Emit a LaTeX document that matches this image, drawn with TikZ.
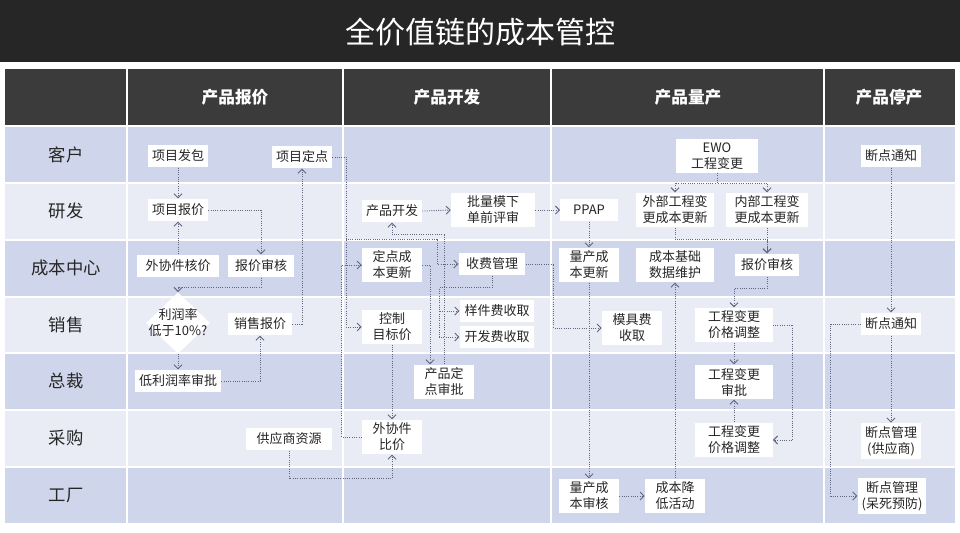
\documentclass[tikz,border=0pt]{standalone}
\usepackage{fontspec}
\setmainfont{Noto Sans CJK SC}
\usetikzlibrary{shapes.geometric,arrows.meta,calc}
\definecolor{titlebg}{RGB}{38,38,38}
\definecolor{headbg}{RGB}{59,59,59}
\definecolor{rowdark}{RGB}{207,213,234}
\definecolor{rowlight}{RGB}{233,235,245}
\definecolor{linegray}{RGB}{98,102,126}
\definecolor{textgray}{RGB}{38,38,38}
\newcommand{\boxfont}{\fontsize{9.75}{12}\selectfont}
\begin{document}
\begin{tikzpicture}
	[x=0.75pt,y=-0.75pt,
	mybox/.style={fill=white,text=textgray,font=\boxfont,align=center,inner xsep=3pt,inner ysep=2.5pt,minimum height=17pt},
	twoline/.style={mybox,minimum width=45pt},
	decide/.style={diamond,fill=white,minimum width=48pt,minimum height=46pt,inner sep=0pt},
	rowlabel/.style={text=textgray,font=\fontsize{13}{15}\selectfont},
	colhead/.style={text=white,font=\bfseries\fontsize{12.5}{15}\selectfont},
	mylink/.style={draw=linegray,densely dotted,line width=0.7pt,-{Straight Barb[length=3pt,width=6pt]}},]
	\useasboundingbox (0,0) rectangle (960,532);
	\fill[white] (0,0) rectangle (960,532);
	\fill[titlebg] (0,0) rectangle (960,62);
	\node[text=white,font=\fontsize{22.5}{26}\selectfont,name=title] at (480,32) {全价值链的成本管控};
	\fill[headbg] (5,69) rectangle (955,125);
	\foreach \ya/\yb/\c in {127/183/rowdark,183/240/rowlight,240/297/rowdark,297/353/rowlight,353/410/rowdark,410/467/rowlight,467/523/rowdark}
	{
		\fill[\c] (5,\ya) rectangle (955,\yb);
	}
	\foreach \y in {183,240,297,353,410,467}
	{
		\draw[white,line width=0.8pt] (5,\y) -- (955,\y);
	}
	\foreach \x in {127,343,551,824}
	{
		\draw[white,line width=0.8pt] (\x,69) -- (\x,523);
	}
	\foreach \t/\x [count=\i] in {产品报价/235,产品开发/447,产品量产/688,产品停产/889}
	{
		\node[colhead,name=stage\i] at (\x,97) {\t};
	}
	\foreach \t/\y [count=\i] in {客户/155,研发/211,成本中心/268,销售/325,总裁/381,采购/438,工厂/495}
	{
		\node[rowlabel,name=row\i] at (66,\y) {\t};
	}
	\node[mybox,name=fb] at (178,156) {项目发包};
	\node[mybox,name=dd] at (302,157) {项目定点};
	\node[mybox,name=bj] at (178,210) {项目报价};
	\node[mybox,minimum width=61pt,name=whj] at (178,266) {外协件核价};
	\node[mybox,minimum width=50pt,name=bjsh] at (261,266) {报价审核};
	\node[decide,name=lrl] at (178,323) {};
	\node[mybox,fill=none,name=lrltext] at (lrl) {利润率\\低于10\%?};
	\node[mybox,minimum width=48pt,name=xsbj] at (260,324) {销售报价};
	\node[mybox,minimum width=63pt,name=dlrl] at (178,381) {低利润率审批};
	\node[mybox,minimum width=64pt,name=gys] at (289,439) {供应商资源};
	\node[mybox,name=kf] at (392,211) {产品开发};
	\node[twoline,minimum width=63pt,name=plms] at (493,210) {批量模下\\单前评审};
	\node[twoline,name=ddcb] at (392,265) {定点成\\本更新};
	\node[mybox,minimum width=50pt,name=sfgl] at (492,264) {收费管理};
	\node[twoline,name=kzmb] at (392,327) {控制\\目标价};
	\node[mybox,minimum width=56pt,minimum height=16pt,name=yjf] at (497,311) {样件费收取};
	\node[mybox,minimum width=56pt,minimum height=16pt,name=kff] at (497,337) {开发费收取};
	\node[twoline,name=cpdd] at (444,382) {产品定\\点审批};
	\node[twoline,name=wxbj] at (392,437) {外协件\\比价};
	\node[mybox,minimum width=43pt,name=ppap] at (589,210) {PPAP};
	\node[twoline,minimum width=62pt,name=ewo] at (717,156) {EWO\\工程变更};
	\node[twoline,minimum width=58pt,name=wbbg] at (675,210) {外部工程变\\更成本更新};
	\node[twoline,minimum width=62pt,name=nbbg] at (767,210) {内部工程变\\更成本更新};
	\node[twoline,name=lccb] at (589,265) {量产成\\本更新};
	\node[twoline,minimum width=58pt,name=jcsj] at (675,265) {成本基础\\数据维护};
	\node[mybox,minimum width=48pt,name=bjsh2] at (767,265) {报价审核};
	\node[twoline,name=mjf] at (632,328) {模具费\\收取};
	\node[twoline,minimum width=58pt,name=tj1] at (734,325) {工程变更\\价格调整};
	\node[twoline,minimum width=58pt,name=bgsp] at (734,382) {工程变更\\审批};
	\node[twoline,minimum width=58pt,name=tj2] at (734,440) {工程变更\\价格调整};
	\node[twoline,name=lcsh] at (589,496) {量产成\\本审核};
	\node[twoline,name=jdhd] at (675,496) {成本降\\低活动};
	\node[mybox,name=dd1] at (891,156) {断点通知};
	\node[mybox,name=dd2] at (891,324) {断点通知};
	\node[twoline,minimum width=44pt,name=dgl1] at (891,441) {断点管理\\(供应商)};
	\node[twoline,minimum width=50pt,name=dgl2] at (892,496) {断点管理\\(呆死预防)};
	\draw[mylink] (fb.south) -- (bj.north);
	\draw[mylink] (whj.north) -- (bj.south);
	\draw[mylink] (bj.east) -| (bjsh.north);
	\draw[mylink] (bjsh.south) -- ++(0,10) -| (lrl.north);
	\draw[mylink] (lrl.south) -- (dlrl.north);
	\draw[mylink] (dlrl.east) -| (xsbj.south);
	\draw[mylink] (xsbj.east) -| (dd.south);
	\draw[mylink] (dd.east) -- ++(14,0) |- (kzmb.west);
	\draw[mylink] (dd.east) -- ++(14,0) |- (437,239) |- (sfgl.west);
	\draw[mylink] (wxbj.west) -- ++(-20,0) |- (ddcb.west);
	\draw[mylink] (kzmb.south) -- (wxbj.north);
	\draw[mylink] (gys.south) -- ++(0,28) -| (wxbj.south);
	\draw[mylink] (ddcb.east) -| ($(cpdd.north)+(-14,0)$);
	\draw[mylink] (cpdd.north) |- ($(kf.south)+(0,12)$) -- (kf.south);
	\draw[mylink] (sfgl.south) -- ++(0,12) -| ($(yjf.west)+(-20,0)$) -- (yjf.west);
	\draw[mylink] (sfgl.south) -- ++(0,12) -| ($(kff.west)+(-20,0)$) -- (kff.west);
	\draw[mylink] (kf.east) -- (plms.west);
	\draw[mylink] (plms.east) -- (ppap.west);
	\draw[mylink] (ppap.south) -- (lccb.north);
	\draw[mylink] (sfgl.east) -- ++(28,0) |- (mjf.west);
	\draw[mylink] (lccb.south) -- (lcsh.north);
	\draw[mylink] (lcsh.east) -- (jdhd.west);
	\draw[mylink] (jdhd.north) -- (jcsj.south);
	\draw[mylink] (ewo.south) -- ++(0,10) -| (wbbg.north);
	\draw[mylink] (ewo.south) -- ++(0,10) -| (nbbg.north);
	\draw[mylink] (wbbg.south) -- ++(0,12) -| (bjsh2.north);
	\draw[mylink] (nbbg.south) -- (bjsh2.north);
	\draw[mylink] (bjsh2.south) -- ++(0,12) -| (tj1.north);
	\draw[mylink] (tj1.south) -- (bgsp.north);
	\draw[mylink] (tj2.north) -- (bgsp.south);
	\draw[mylink] (tj1.east) -- ++(20,0) |- (tj2.east);
	\draw[mylink] (dd1.south) -- (dd2.north);
	\draw[mylink] (dd2.south) -- (dgl1.north);
	\draw[mylink] (dd2.west) -- ++(-30,0) |- (dgl2.west);
\end{tikzpicture}
\end{document}
